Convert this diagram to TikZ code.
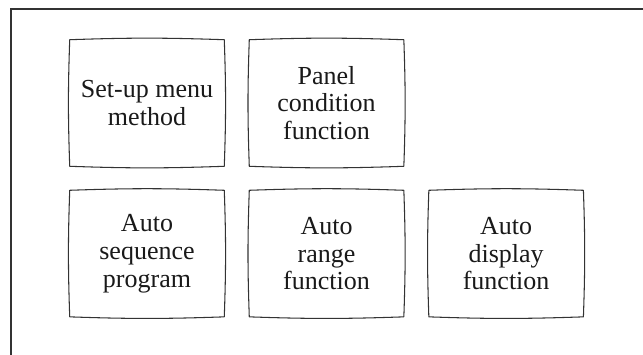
\documentclass[tikz,border=0pt]{standalone}
\usepackage{fontspec}
\setmainfont{Liberation Serif}
\usetikzlibrary{positioning}
\tikzset{
    screen/.style={rectangle, draw=none, align=center, minimum width=3.85cm, minimum height=3.15cm, text=black!90, font=\fontsize{18.5}{19.8}\selectfont},
    tube/.style={draw=black!80, line width=0.75pt, line join=round}
}

\begin{document}
\begin{tikzpicture}
\useasboundingbox (0,0) rectangle (16.075,-8.85);

% Outer frame (cut by the page edge)
\draw[black!80, line width=1.1pt] (16.3,-0.225) -- (0.275,-0.225) -- (0.275,-9.1);

% Upper row
\node[screen] (setup) at (3.675,-2.575) {Set-up menu\\method};
\node[screen] (panel) [right=0.625cm of setup] {Panel\\condition\\function};

% Lower row
\node[screen] (sequence) [below=0.6cm of setup] {Auto\\sequence\\program};
\node[screen] (range) [right=0.625cm of sequence] {Auto\\range\\function};
\node[screen] (display) [right=0.625cm of range] {Auto\\display\\function};

% Screen outlines with slightly bulging sides
\foreach \n in {setup, panel, sequence, range, display}
    \draw[tube] (\n.north west) to[bend left=2] (\n.north east)
        to[bend left=2] (\n.south east) to[bend left=2] (\n.south west)
        to[bend left=2] cycle;

\end{tikzpicture}
\end{document}
